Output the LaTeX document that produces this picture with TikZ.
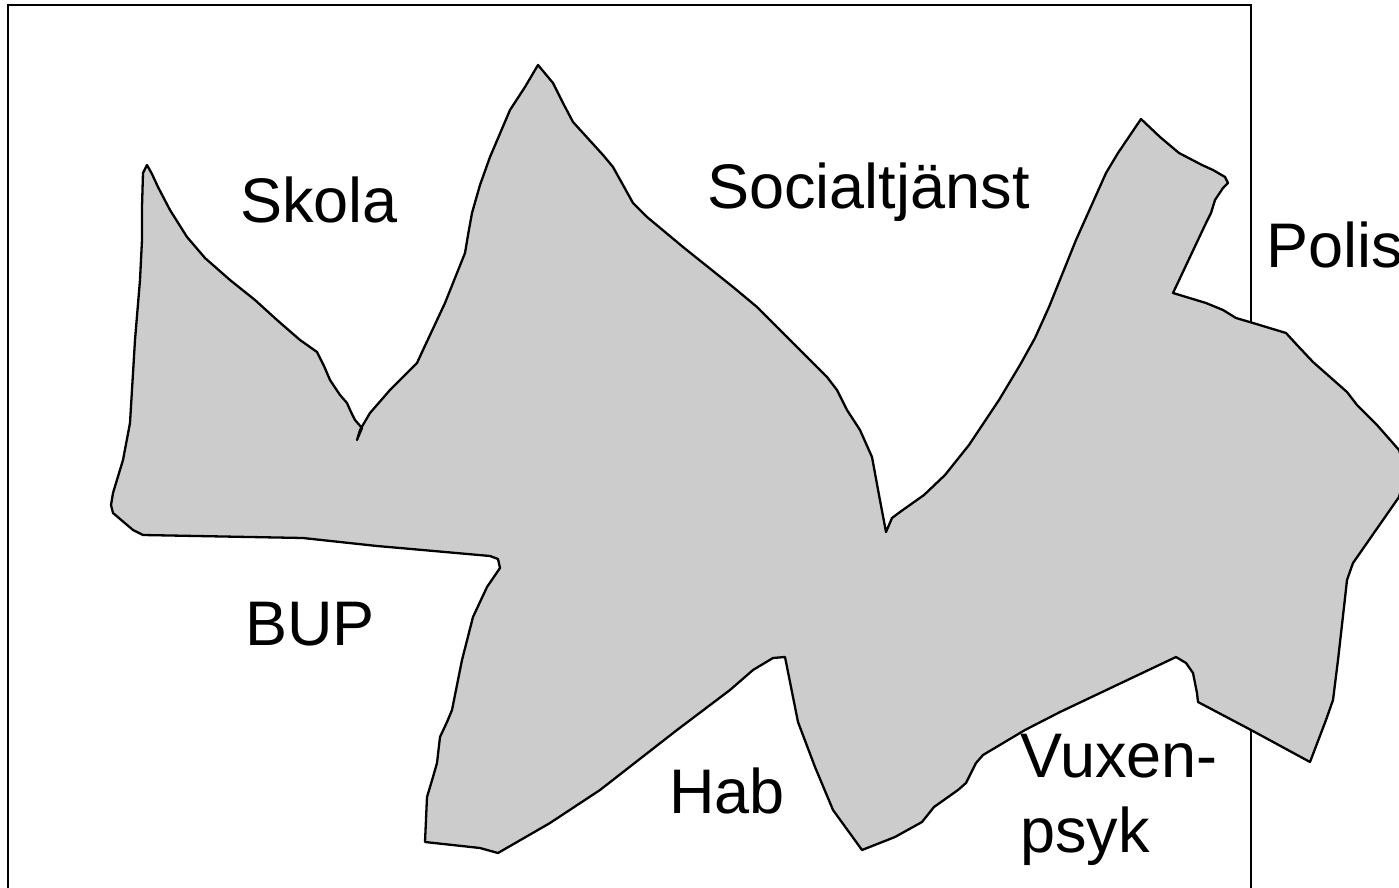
\documentclass[tikz,border=0pt]{standalone}
\usepackage{fontspec}
\setmainfont{Liberation Sans}
\definecolor{blobgray}{rgb}{0.8,0.8,0.8}
\begin{document}
\begin{tikzpicture}[x=0.5pt,y=-0.5pt,
  frame/.style={draw=black,line width=1.35pt},
  blob/.style={draw=black,fill=blobgray,line width=1.15pt,line join=round},
  lbl/.style={font=\fontsize{31.5}{37.5}\selectfont,inner sep=0pt,anchor=base west,align=left}]
\useasboundingbox (0,0) rectangle (1399,888);
\clip (0,0) rectangle (1399,888);
\fill[white] (0,0) rectangle (1399,888);
\draw[frame] (8,5) rectangle (1251,900);
\draw[blob] (147,165) -- (152,174) -- (158,187) -- (170,210) -- (187,237) -- (205,258) -- (230,280)
 -- (255,300) -- (277,320) -- (300,340) -- (317,352) -- (324,366) -- (330,380) -- (340,395)
 -- (347,403) -- (351,412) -- (355,420) -- (362,428) -- (357,440) -- (360,430) -- (370,413)
 -- (390,390) -- (417,363) -- (423,350) -- (445,303) -- (465,253) -- (468,235) -- (472,213)
 -- (480,185) -- (490,157) -- (510,110) -- (525,87) -- (538,65) -- (553,83) -- (563,103)
 -- (573,122) -- (583,133) -- (603,155) -- (613,167) -- (633,203) -- (647,217) -- (683,247)
 -- (733,287) -- (757,307) -- (793,343) -- (827,377) -- (837,390) -- (847,410) -- (860,430)
 -- (872,457) -- (879,495) -- (886,532) -- (892,518) -- (900,512) -- (924,495) -- (945,475)
 -- (969,445) -- (999,400) -- (1020,365) -- (1035,338) -- (1049,307) -- (1076,240) -- (1106,173)
 -- (1118,153) -- (1141,119) -- (1160,137) -- (1179,153) -- (1202,165) -- (1213,170) -- (1225,177)
 -- (1228,183) -- (1223,188) -- (1215,200) -- (1211,213) -- (1206,223) -- (1173,293) -- (1206,303)
 -- (1223,310) -- (1236,318) -- (1253,323) -- (1286,333) -- (1297,345) -- (1313,362) -- (1347,392)
 -- (1357,405) -- (1377,425) -- (1399,450) -- (1406,472) -- (1399,497) -- (1353,563) -- (1347,580)
 -- (1344,607) -- (1338,660) -- (1333,700) -- (1326,720) -- (1310,762) -- (1251,730) -- (1198,702)
 -- (1197,693) -- (1193,673) -- (1186,663) -- (1176,657) -- (1060,712) -- (1025,730) -- (983,755)
 -- (976,763) -- (966,783) -- (958,790) -- (934,807) -- (922,822) -- (895,837) -- (862,850)
 -- (833,810) -- (815,767) -- (798,722) -- (785,657) -- (773,658) -- (753,670) -- (730,690)
 -- (677,730) -- (600,790) -- (550,823) -- (498,853) -- (480,848) -- (425,842) -- (427,797)
 -- (433,777) -- (437,763) -- (440,737) -- (447,722) -- (452,710) -- (462,660) -- (473,617)
 -- (487,587) -- (500,568) -- (498,559) -- (490,556) -- (400,548) -- (377,546) -- (303,538)
 -- (143,535) -- (133,530) -- (113,513) -- (111,505) -- (113,493) -- (123,460) -- (130,423)
 -- (135,340) -- (140,280) -- (142,240) -- (142,207) -- (143,173) -- cycle;
\node[lbl] (skola) at (240,222) {Skola};
\node[lbl] (soc) at (707,208) {Socialtjänst};
\node[lbl] (polis) at (1266,268) {Polis};
\node[lbl] (bup) at (245,645) {BUP};
\node[lbl] (hab) at (669,813) {Hab};
\node[lbl] (vux) at (1020,852) {Vuxen-\\psyk};
\end{tikzpicture}
\end{document}
